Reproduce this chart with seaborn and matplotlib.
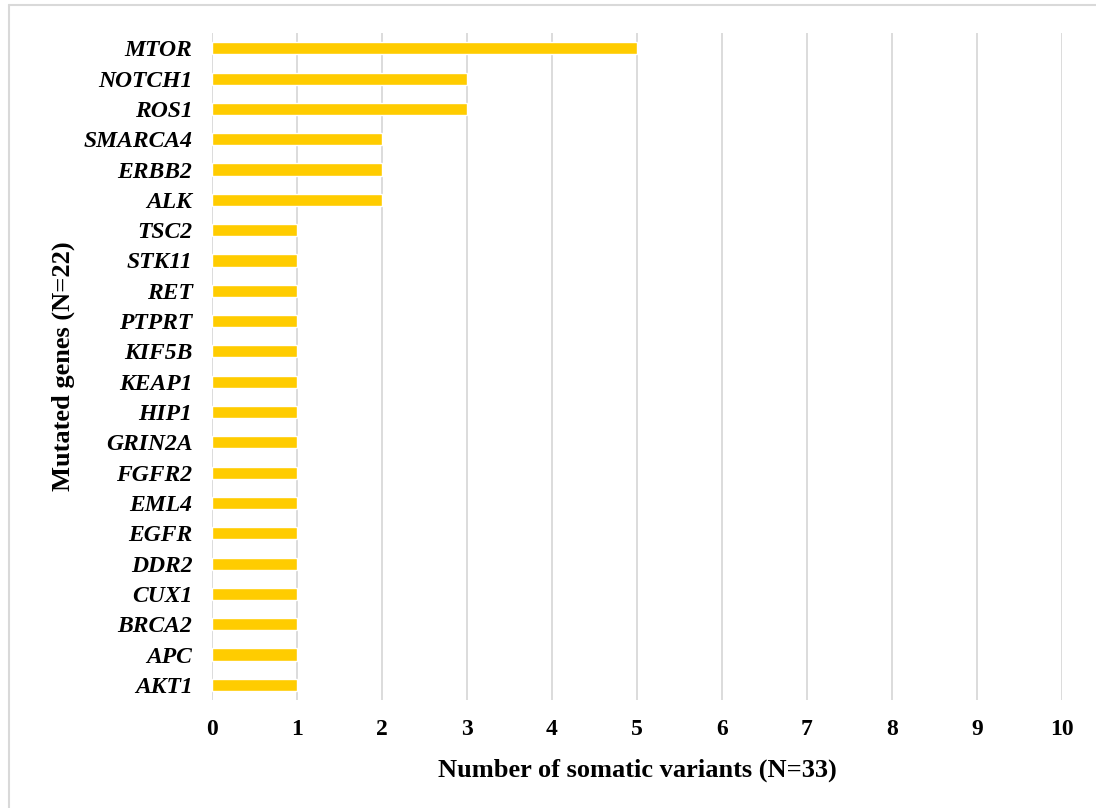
import matplotlib
matplotlib.use("Agg")
import matplotlib.pyplot as plt
import seaborn as sns
import pandas as pd
from matplotlib.lines import Line2D

genes = ["MTOR", "NOTCH1", "ROS1", "SMARCA4", "ERBB2", "ALK", "TSC2", "STK11", "RET",
         "PTPRT", "KIF5B", "KEAP1", "HIP1", "GRIN2A", "FGFR2", "EML4", "EGFR", "DDR2",
         "CUX1", "BRCA2", "APC", "AKT1"]
counts = [5, 3, 3, 2, 2, 2, 1, 1, 1, 1, 1, 1, 1, 1, 1, 1, 1, 1, 1, 1, 1, 1]
xticks = list(range(0, 11))

df = pd.DataFrame({"gene": genes, "count": counts})

sns.set_theme(style="white")
plt.rcParams['font.family'] = ['Liberation Serif', 'DejaVu Serif']
plt.rcParams['text.color'] = 'black'
plt.rcParams['axes.labelcolor'] = 'black'
plt.rcParams['xtick.color'] = 'black'
plt.rcParams['ytick.color'] = 'black'

fig = plt.figure(figsize=(10.96, 8.08), dpi=100)
ax = fig.add_axes([0.1934, 0.1337, 0.7756, 0.8253])

sns.barplot(data=df, x="count", y="gene", color="#FFCC00", saturation=1,
            width=0.4, ax=ax, orient="h")

ax.set_xlim(0, 10)
ax.set_xticks(xticks)
ax.set_xticklabels([str(t) for t in xticks], fontsize=17, fontweight="bold")
ax.tick_params(axis="x", length=0, pad=14, colors="black")
ax.tick_params(axis="y", length=0, pad=14, colors="black")
for lbl in ax.get_yticklabels():
    lbl.set_fontsize(17)
    lbl.set_fontweight("bold")
    lbl.set_fontstyle("italic")

ax.xaxis.grid(True, color="#D9D9D9", linewidth=1.3)
ax.set_axisbelow(True)
for s in ax.spines.values():
    s.set_visible(False)

ax.set_xlabel("Number of somatic variants (N=33)", fontsize=19, fontweight="bold",
              labelpad=13, color="black")
ax.set_ylabel("Mutated genes (N=22)", fontsize=19, fontweight="bold",
              labelpad=6, color="black")

x0 = 8.5 / 1096
y0 = 1 - 4.5 / 808
fig.add_artist(Line2D([x0, x0], [0, y0], transform=fig.transFigure,
                      color="#D9D9D9", linewidth=1.5))
fig.add_artist(Line2D([x0, 1], [y0, y0], transform=fig.transFigure,
                      color="#D9D9D9", linewidth=1.5))

fig.savefig("out.png", dpi=100)
